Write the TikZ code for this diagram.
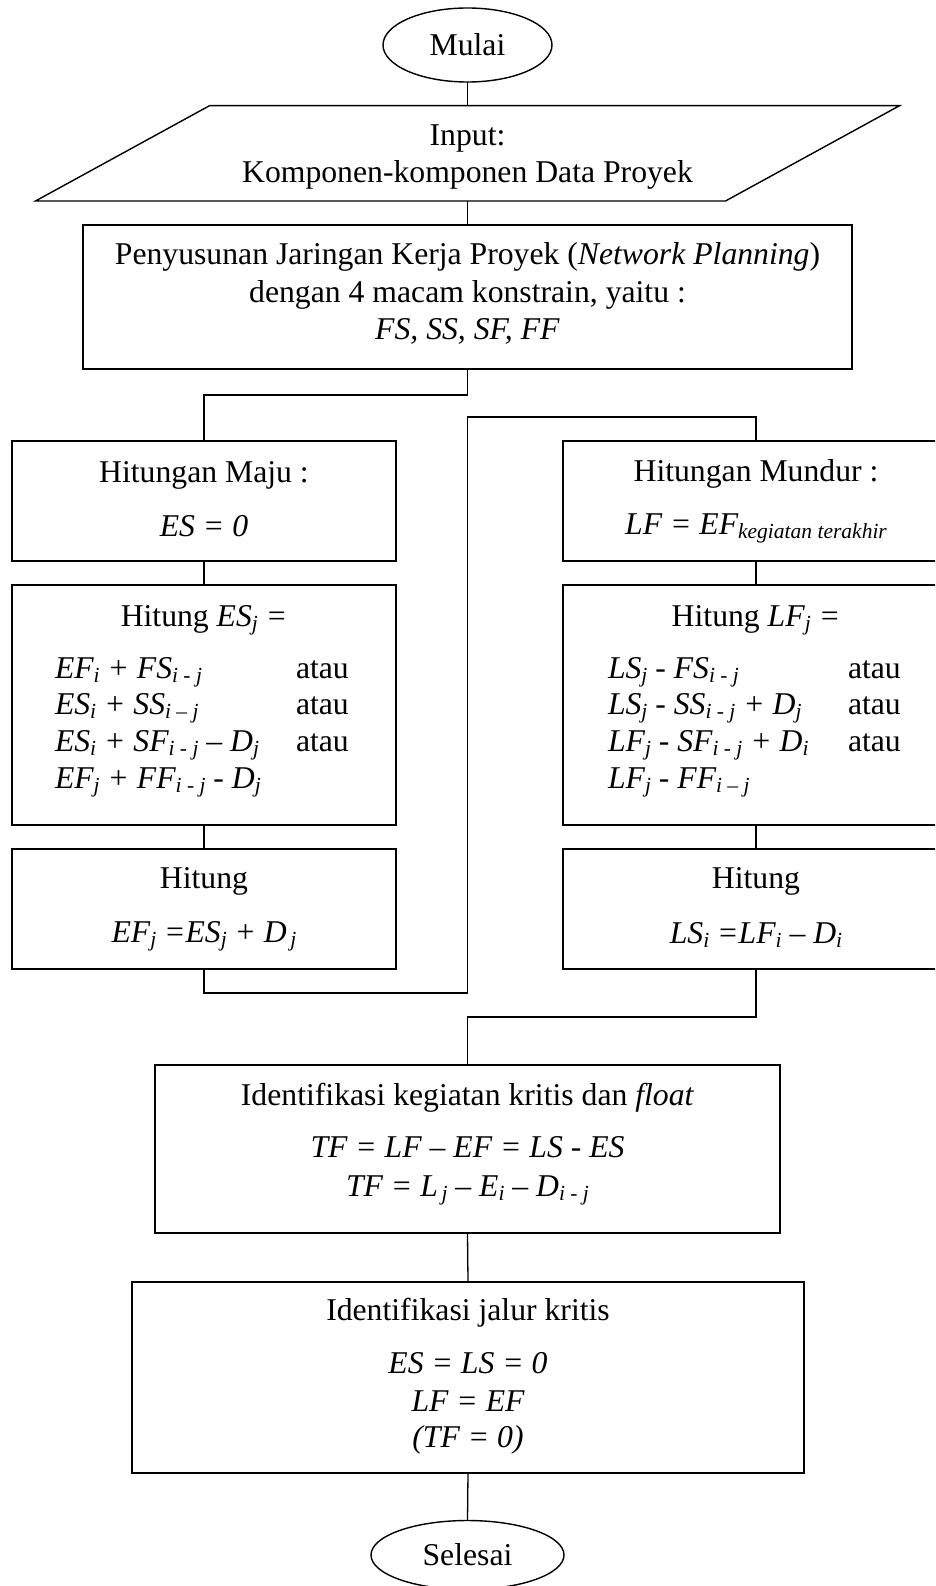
\documentclass[tikz,border=0pt]{standalone}
\usepackage{fontspec}
\setmainfont{Liberation Serif}
\usetikzlibrary{shapes.geometric,calc}
\newcommand{\sbx}[1]{\raisebox{-4.5pt}{\fontsize{21.5}{22}\selectfont\itshape #1}}
\begin{document}
\begin{tikzpicture}[x=1pt,y=-1pt,
  every node/.style={font=\fontsize{31.7}{36.5}\selectfont, inner sep=0pt, outer sep=0pt},
  box/.style={draw, rectangle, line width=1.4pt},
  term/.style={draw, ellipse, line width=1.4pt},
  conn/.style={line width=1.3pt},
  txt/.style={anchor=base}]
\useasboundingbox (0,0) rectangle (935,1586);
\clip (0,0) rectangle (935,1586);
\fill[white] (0,0) rectangle (935,1586);

% start
\node[term, minimum width=169pt, minimum height=74pt] (mulai) at (467.5,45) {Mulai};

% input
\node[rectangle, minimum width=690pt, minimum height=95.3pt] (inp) at (467.5,153.35) {};
\draw[conn, line width=1.4pt] ($(inp.north west)+(87,0)$) -- ($(inp.north east)+(87,0)$)
  -- ($(inp.south east)+(-87,0)$) -- ($(inp.south west)+(-87,0)$) -- cycle;
\node[txt] (inpT1) at (467.5,146) {Input:};
\node[txt] (inpT2) at (467.5,183) {Komponen-komponen Data Proyek};

% network planning
\node[box, minimum width=769pt, minimum height=144pt] (b1) at (467.5,297) {};
\node[txt] (b1T1) at (467.5,265) {Penyusunan Jaringan Kerja Proyek (\textit{Network Planning})};
\node[txt] (b1T2) at (467.5,302) {dengan 4 macam konstrain, yaitu :};
\node[txt] (b1T3) at (467.5,339) {\textit{FS, SS, SF, FF}};

% forward
\node[box, minimum width=384pt, minimum height=120pt] (maju) at (204,501) {};
\node[txt] (majuT1) at (204,482) {Hitungan Maju :};
\node[txt] (majuT2) at (204,536) {\textit{ES = 0}};

\node[box, minimum width=384pt, minimum height=240pt] (esj) at (204,705) {};
\node[txt] (esjT) at (204,626) {Hitung \textit{ES}\sbx{j} \textit{=}};
\node[txt, anchor=base west] (esjL1) at (55,678) {\itshape EF\sbx{i} + FS\sbx{i - j}};
\node[txt, anchor=base west] (esjL2) at (55,714) {\itshape ES\sbx{i} + SS\sbx{i – j}};
\node[txt, anchor=base west] (esjL3) at (55,751) {\itshape ES\sbx{i} + SF\sbx{i - j} – D\sbx{j}};
\node[txt, anchor=base west] (esjL4) at (55,788) {\itshape EF\sbx{j} + FF\sbx{i - j} \textup{-} D\sbx{j}};
\node[txt, anchor=base west] (esjA1) at (296,678) {atau};
\node[txt, anchor=base west] (esjA2) at (296,714) {atau};
\node[txt, anchor=base west] (esjA3) at (296,751) {atau};

\node[box, minimum width=384pt, minimum height=120pt] (ef) at (204,909) {};
\node[txt] (efT1) at (204,888) {Hitung};
\node[txt] (efT2) at (204,942) {\itshape EF\sbx{j} =ES\sbx{j} + D\sbx{\,j}};

% backward
\node[box, minimum width=386pt, minimum height=120pt] (mundur) at (756,501) {};
\node[txt] (mundurT1) at (756,481) {Hitungan Mundur :};
\node[txt] (mundurT2) at (756,534) {\itshape LF = EF\sbx{kegiatan terakhir}};

\node[box, minimum width=386pt, minimum height=240pt] (lfj) at (756,705) {};
\node[txt] (lfjT) at (756,626) {Hitung \textit{LF}\sbx{j} \textit{=}};
\node[txt, anchor=base west] (lfjL1) at (608,678) {\itshape LS\sbx{j} \textup{-} FS\sbx{i - j}};
\node[txt, anchor=base west] (lfjL2) at (608,714) {\itshape LS\sbx{j} \textup{-} SS\sbx{i - j} + D\sbx{j}};
\node[txt, anchor=base west] (lfjL3) at (608,751) {\itshape LF\sbx{j} \textup{-} SF\sbx{i - j} + D\sbx{i}};
\node[txt, anchor=base west] (lfjL4) at (608,788) {\itshape LF\sbx{j} \textup{-} FF\sbx{i – j}};
\node[txt, anchor=base west] (lfjA1) at (848,678) {atau};
\node[txt, anchor=base west] (lfjA2) at (848,714) {atau};
\node[txt, anchor=base west] (lfjA3) at (848,751) {atau};

\node[box, minimum width=386pt, minimum height=120pt] (ls) at (756,909) {};
\node[txt] (lsT1) at (756,888) {Hitung};
\node[txt] (lsT2) at (756,943) {\itshape LS\sbx{i} =LF\sbx{i} – D\sbx{i}};

% identification
\node[box, minimum width=625pt, minimum height=168pt] (ident) at (467.5,1149) {};
\node[txt] (identT1) at (467.5,1105) {Identifikasi kegiatan kritis dan \textit{float}};
\node[txt] (identT2) at (467.5,1157) {\itshape TF = LF – EF = LS \textup{-} ES};
\node[txt] (identT3) at (467.5,1196) {\itshape TF = L\sbx{\,j} – E\sbx{i} – D\sbx{i - j}};

\node[box, minimum width=672pt, minimum height=191pt] (jalur) at (468,1377.5) {};
\node[txt] (jalurT1) at (468,1320) {Identifikasi jalur kritis};
\node[txt] (jalurT2) at (468,1373) {\itshape ES = LS = 0};
\node[txt] (jalurT3) at (468,1411) {\itshape LF = EF};
\node[txt] (jalurT4) at (468,1447) {\itshape (TF = 0)};

% end
\node[term, minimum width=193pt, minimum height=69pt] (selesai) at (467.5,1555) {Selesai};

% connectors
\coordinate (j0) at (467.5,395);
\coordinate (j1) at (467.5,993);
\coordinate (j2) at (467.5,417);
\coordinate (j3) at (467.5,1017);
\draw[conn] (mulai.south) -- (inp.north);
\draw[conn] (inp.south) -- (b1.north);
\draw[conn] (b1.south) -- (j0) -| (maju.north);
\draw[conn] (maju.south) -- (esj.north);
\draw[conn] (esj.south) -- (ef.north);
\draw[conn] (ef.south) |- (j1) -- (j2) -| (mundur.north);
\draw[conn] (mundur.south) -- (lfj.north);
\draw[conn] (lfj.south) -- (ls.north);
\draw[conn] (ls.south) |- (j3) -- (ident.north);
\draw[conn] (ident.south) -- (jalur.north);
\draw[conn] (jalur.south) -- (selesai.north);
\end{tikzpicture}
\end{document}
